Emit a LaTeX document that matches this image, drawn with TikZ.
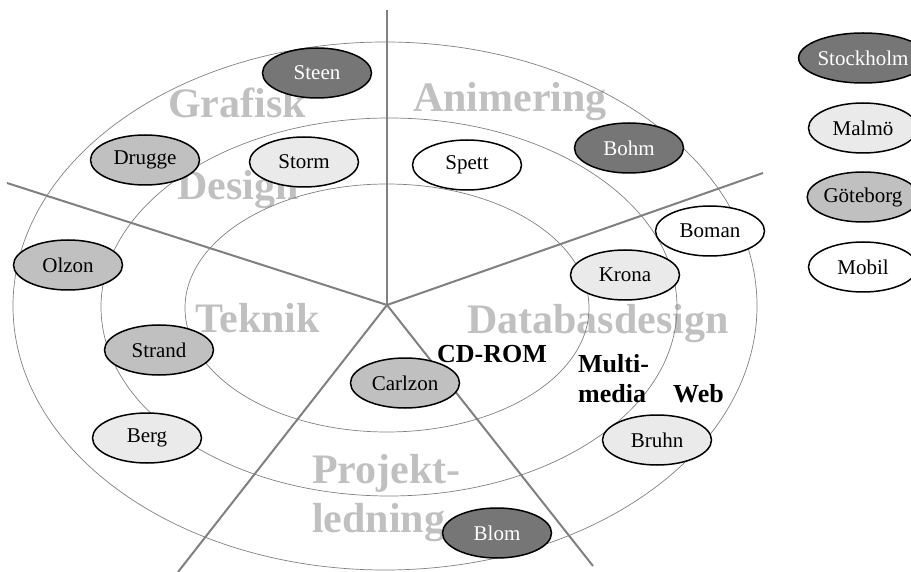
\documentclass[tikz,border=0pt]{standalone}
\usepackage{fontspec}
\setmainfont{Liberation Serif}
\usetikzlibrary{shapes.geometric}
\definecolor{darkfill}{RGB}{118,118,118}
\definecolor{midfill}{RGB}{192,192,192}
\definecolor{lightfill}{RGB}{234,234,234}
\definecolor{labelgray}{RGB}{192,192,192}
\definecolor{linegray}{RGB}{128,128,128}
\tikzset{
  person/.style={ellipse, draw=black, line width=1.5pt, minimum width=109pt, minimum height=50pt, inner sep=0pt, font=\fontsize{21}{24}\selectfont},
  sthlm/.style={person, fill=darkfill, text=white},
  malmo/.style={person, fill=lightfill},
  gbg/.style={person, fill=midfill},
  mobil/.style={person, fill=white},
  area/.style={anchor=base west, inner sep=0pt, text=labelgray, font=\fontsize{42}{44}\selectfont\bfseries},
  medium/.style={anchor=base west, inner sep=0pt, text=black, font=\fontsize{26}{30}\selectfont\bfseries},
  ring/.style={draw=linegray, line width=0.7pt},
  spoke/.style={draw=linegray, line width=2pt}
}
\begin{document}
\begin{tikzpicture}[x=1pt, y=-1pt]
\useasboundingbox (0,0) rectangle (911,572);
% area labels
\node[area] (grafisk) at (168,118) {Grafisk};
\node[area] (design) at (177,200) {Design};
\node[area] (animering) at (413,112) {Animering};
\node[area] (teknik) at (195,333) {Teknik};
\node[area] (databas) at (467,334) {Databasdesign};
\node[area] (projekt) at (312,483) {Projekt-};
\node[area] (ledning) at (312,532) {ledning};
% rings
\draw[ring] (387,308) ellipse [x radius=202pt, y radius=124pt];
\draw[ring] (389,307) ellipse [x radius=288pt, y radius=189pt];
\draw[ring] (385,306) ellipse [x radius=372pt, y radius=264pt];
% spokes
\coordinate (c) at (387,305);
\coordinate (eup) at (387,10);
\coordinate (eul) at (7,183);
\coordinate (eur) at (763,173);
\coordinate (ell) at (178,572);
\coordinate (elr) at (593,566);
\draw[spoke] (c) -- (eup);
\draw[spoke] (c) -- (eul);
\draw[spoke] (c) -- (eur);
\draw[spoke] (c) -- (ell);
\draw[spoke] (c) -- (elr);
% people
\node[sthlm] (steen) at (317,73) {Steen};
\node[gbg] (drugge) at (145,160) {Drugge};
\node[malmo] (storm) at (304,162) {Storm};
\node[mobil] (spett) at (467,165) {Spett};
\node[sthlm] (bohm) at (629,148) {Bohm};
\node[mobil] (boman) at (710,231) {Boman};
\node[malmo] (krona) at (625,275) {Krona};
\node[gbg] (olzon) at (68,265) {Olzon};
\node[gbg] (strand) at (159,350) {Strand};
\node[malmo] (berg) at (147,438) {Berg};
\node[gbg] (carlzon) at (405,383) {Carlzon};
\node[malmo] (bruhn) at (657,440) {Bruhn};
\node[sthlm] (blom) at (497,533) {Blom};
% media labels
\node[medium] (cdrom) at (437,362) {CD-ROM};
\node[medium] (multi) at (578,372) {Multi-};
\node[medium] (media) at (578,402) {media};
\node[medium] (web) at (673,402) {Web};
% legend
\node[sthlm] (lstockholm) at (863,58) {Stockholm};
\node[malmo] (lmalmo) at (863,128) {Malmö};
\node[gbg] (lgoteborg) at (863,197) {Göteborg};
\node[mobil] (lmobil) at (863,267) {Mobil};
\end{tikzpicture}
\end{document}
